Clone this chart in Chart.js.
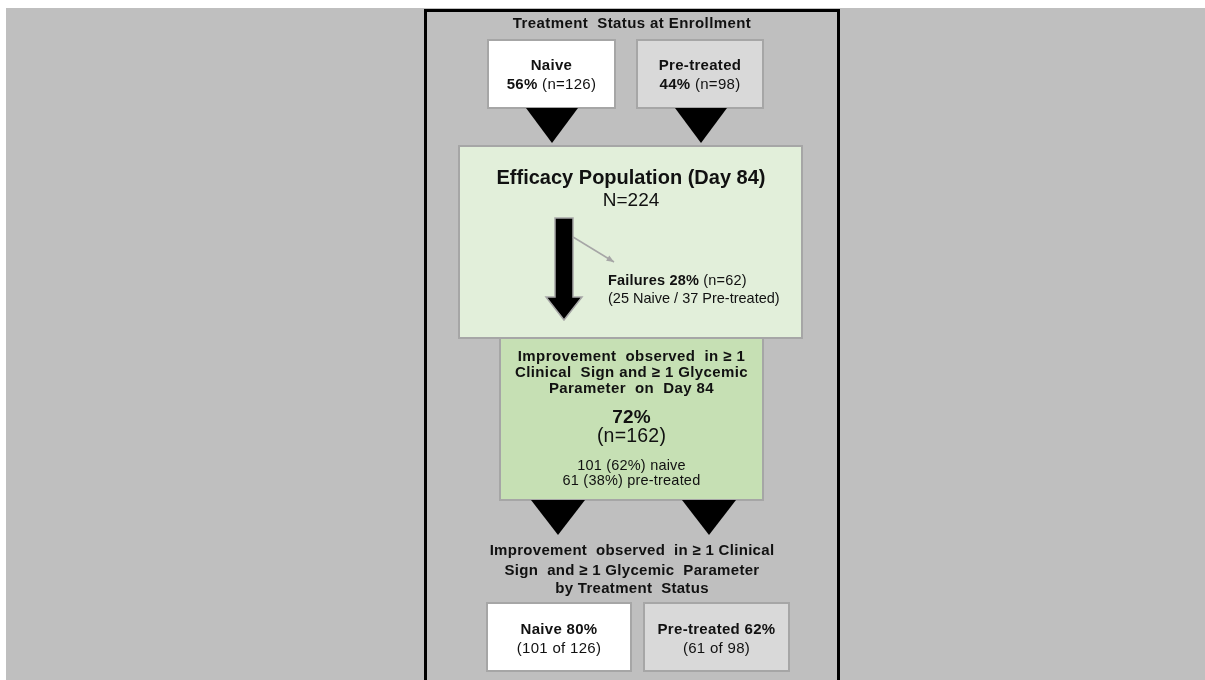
<!DOCTYPE html>
<html>
<head>
<meta charset="utf-8">
<script src="https://cdn.jsdelivr.net/npm/chart.js@4.4.0/dist/chart.umd.min.js"></script>
<style>
  html, body { margin: 0; padding: 0; background: #ffffff; }
  canvas { display: block; }
</style>
</head>
<body>
<canvas id="flow" width="1205" height="680"></canvas>
<script>
// values
const groups = ['Naive', 'Pre-treated'];
const enrolledPct = [56, 44];
const enrolledN = [126, 98];
const efficacyDay = 84;
const efficacyN = 224;
const failurePct = 28;
const failureN = 62;
const failureByGroup = [25, 37];
const improvedPct = 72;
const improvedN = 162;
const improvedByGroup = [101, 61];
const improvedShare = [62, 38];
const groupRate = [80, 62];

// layout in scale units (1 unit = 1px of the 1205x680 page)
const W = 1205, H = 680;
const FONT = "'Liberation Sans', Arial, sans-serif";
const layout = {
    panel: { x: 6, y: 8 },
    frame: { x1: 425.5, x2: 838.5, y: 10.5 },
    topBoxes: [{ x1: 488, x2: 615 }, { x1: 637, x2: 763 }],
    topBoxY: [40, 108],
    topArrows: [{ cx: 552, half: 26 }, { cx: 701, half: 26 }],
    topArrowY: [108, 143],
    effBox: { x1: 459, x2: 802, y1: 146, y2: 338 },
    impBox: { x1: 500, x2: 763, y1: 338, y2: 500 },
    bigArrow: { cx: 564, shaft: 9, head: 18, y1: 218, yHead: 297, y2: 320 },
    failArrow: { x1: 573, y1: 237, x2: 614, y2: 262 },
    botArrows: [{ cx: 558, half: 27 }, { cx: 709, half: 27 }],
    botArrowY: [500, 535],
    botBoxes: [{ x1: 487, x2: 631 }, { x1: 644, x2: 789 }],
    botBoxY: [603, 671]
};
const colors = {
    panel: '#bfbfbf',
    border: '#a6a6a6',
    white: '#ffffff',
    grey: '#d9d9d9',
    eff: '#e2efda',
    imp: '#c6e0b4',
    text: '#111111'
};

function setFont(ctx, bold, size, spacing) {
    ctx.font = (bold ? 'bold ' : '') + size + 'px ' + FONT;
    ctx.letterSpacing = (spacing || 0) + 'px';
}

function drawRuns(ctx, runs, x, y, size, spacing, align) {
    let start = x;
    if (align !== 'left') {
        let w = 0;
        runs.forEach(([t, bold]) => {
            setFont(ctx, bold, size, spacing);
            w += ctx.measureText(t).width;
        });
        start = x - w / 2;
    }
    ctx.textBaseline = 'middle';
    ctx.textAlign = 'left';
    ctx.fillStyle = colors.text;
    runs.forEach(([t, bold]) => {
        setFont(ctx, bold, size, spacing);
        ctx.fillText(t, start, y);
        start += ctx.measureText(t).width;
    });
    ctx.letterSpacing = '0px';
}

const flowPlugin = {
    id: 'flow',
    afterDraw(chart) {
        const ctx = chart.ctx;
        const sx = chart.scales.x, sy = chart.scales.y;
        const px = v => sx.getPixelForValue(v);
        const py = v => sy.getPixelForValue(v);

        const box = (x1, y1, x2, y2, fill) => {
            ctx.fillStyle = fill;
            ctx.fillRect(px(x1), py(y1), px(x2) - px(x1), py(y2) - py(y1));
            ctx.strokeStyle = colors.border;
            ctx.lineWidth = 2;
            ctx.strokeRect(px(x1), py(y1), px(x2) - px(x1), py(y2) - py(y1));
        };
        const tri = (cx, half, y1, y2) => {
            ctx.beginPath();
            ctx.moveTo(px(cx - half), py(y1));
            ctx.lineTo(px(cx + half), py(y1));
            ctx.lineTo(px(cx), py(y2));
            ctx.closePath();
            ctx.fillStyle = '#000000';
            ctx.fill();
        };

        ctx.save();
        // grey panel
        ctx.fillStyle = colors.panel;
        ctx.fillRect(px(layout.panel.x), py(layout.panel.y), px(W) - px(layout.panel.x), py(H) - py(layout.panel.y));

        // black frame (open at the bottom)
        const f = layout.frame;
        ctx.strokeStyle = '#000000';
        ctx.lineWidth = 3;
        ctx.beginPath();
        ctx.moveTo(px(f.x1), py(H));
        ctx.lineTo(px(f.x1), py(f.y));
        ctx.lineTo(px(f.x2), py(f.y));
        ctx.lineTo(px(f.x2), py(H));
        ctx.stroke();

        // header
        drawRuns(ctx, [['Treatment  Status at Enrollment', true]], px(632), py(24), 15, 0.4);

        // enrollment boxes
        const topFill = [colors.white, colors.grey];
        groups.forEach((g, i) => {
            const b = layout.topBoxes[i];
            box(b.x1, layout.topBoxY[0], b.x2, layout.topBoxY[1], topFill[i]);
            const cx = px((b.x1 + b.x2) / 2);
            drawRuns(ctx, [[g, true]], cx, py(66), 15, 0.3);
            drawRuns(ctx, [[enrolledPct[i] + '%', true], [' (n=' + enrolledN[i] + ')', false]], cx, py(85), 15, 0.3);
            const a = layout.topArrows[i];
            tri(a.cx, a.half, layout.topArrowY[0], layout.topArrowY[1]);
        });

        // efficacy population
        const e = layout.effBox;
        box(e.x1, e.y1, e.x2, e.y2, colors.eff);
        drawRuns(ctx, [['Efficacy Population (Day ' + efficacyDay + ')', true]], px(631), py(178), 20, 0);
        drawRuns(ctx, [['N=' + efficacyN, false]], px(631), py(201), 19, 0);

        // big down arrow
        const ba = layout.bigArrow;
        ctx.beginPath();
        ctx.moveTo(px(ba.cx - ba.shaft), py(ba.y1));
        ctx.lineTo(px(ba.cx + ba.shaft), py(ba.y1));
        ctx.lineTo(px(ba.cx + ba.shaft), py(ba.yHead));
        ctx.lineTo(px(ba.cx + ba.head), py(ba.yHead));
        ctx.lineTo(px(ba.cx), py(ba.y2));
        ctx.lineTo(px(ba.cx - ba.head), py(ba.yHead));
        ctx.lineTo(px(ba.cx - ba.shaft), py(ba.yHead));
        ctx.closePath();
        ctx.fillStyle = '#000000';
        ctx.fill();
        ctx.strokeStyle = colors.border;
        ctx.lineWidth = 1.5;
        ctx.stroke();

        // failure side arrow
        const fa = layout.failArrow;
        ctx.strokeStyle = colors.border;
        ctx.lineWidth = 1.5;
        ctx.beginPath();
        ctx.moveTo(px(fa.x1), py(fa.y1));
        ctx.lineTo(px(fa.x2), py(fa.y2));
        ctx.stroke();
        const ang = Math.atan2(py(fa.y2) - py(fa.y1), px(fa.x2) - px(fa.x1));
        ctx.beginPath();
        ctx.moveTo(px(fa.x2), py(fa.y2));
        ctx.lineTo(px(fa.x2) - 8 * Math.cos(ang - 0.4), py(fa.y2) - 8 * Math.sin(ang - 0.4));
        ctx.lineTo(px(fa.x2) - 8 * Math.cos(ang + 0.4), py(fa.y2) - 8 * Math.sin(ang + 0.4));
        ctx.closePath();
        ctx.fillStyle = colors.border;
        ctx.fill();

        drawRuns(ctx, [['Failures ' + failurePct + '%', true], [' (n=' + failureN + ')', false]], px(608), py(281), 14.5, 0.2, 'left');
        drawRuns(ctx, [['(' + failureByGroup[0] + ' ' + groups[0] + ' / ' + failureByGroup[1] + ' ' + groups[1] + ')', false]], px(608), py(299), 14.5, 0, 'left');

        // improvement box
        const m = layout.impBox;
        box(m.x1, m.y1, m.x2, m.y2, colors.imp);
        const icx = px((m.x1 + m.x2) / 2);
        drawRuns(ctx, [['Improvement  observed  in \u2265 1', true]], icx, py(357), 15, 0.4);
        drawRuns(ctx, [['Clinical  Sign and \u2265 1 Glycemic', true]], icx, py(373), 15, 0.4);
        drawRuns(ctx, [['Parameter  on  Day ' + efficacyDay, true]], icx, py(389), 15, 0.4);
        drawRuns(ctx, [[improvedPct + '%', true]], icx, py(418), 19, 0.2);
        drawRuns(ctx, [['(n=' + improvedN + ')', false]], icx, py(437), 19.5, 0.2);
        drawRuns(ctx, [[improvedByGroup[0] + ' (' + improvedShare[0] + '%) naive', false]], icx, py(466), 14.5, 0.2);
        drawRuns(ctx, [[improvedByGroup[1] + ' (' + improvedShare[1] + '%) pre-treated', false]], icx, py(481), 14.5, 0.2);

        // arrows to the subgroup results
        layout.botArrows.forEach(a => tri(a.cx, a.half, layout.botArrowY[0], layout.botArrowY[1]));

        drawRuns(ctx, [['Improvement  observed  in \u2265 1 Clinical', true]], px(632), py(551), 15, 0.3);
        drawRuns(ctx, [['Sign  and \u2265 1 Glycemic  Parameter', true]], px(632), py(571), 15, 0.3);
        drawRuns(ctx, [['by Treatment  Status', true]], px(632), py(589), 15, 0.3);

        // subgroup boxes
        groups.forEach((g, i) => {
            const b = layout.botBoxes[i];
            box(b.x1, layout.botBoxY[0], b.x2, layout.botBoxY[1], topFill[i]);
            const cx = px((b.x1 + b.x2) / 2);
            drawRuns(ctx, [[g + ' ' + groupRate[i] + '%', true]], cx, py(630), 15, 0.3);
            drawRuns(ctx, [['(' + improvedByGroup[i] + ' of ' + enrolledN[i] + ')', false]], cx, py(649), 15, 0.3);
        });
        ctx.restore();
    }
};

document.addEventListener('DOMContentLoaded', () => {
    new Chart(document.getElementById('flow'), {
        type: 'scatter',
        data: { datasets: [{ data: [], pointRadius: 0 }] },
        options: {
            responsive: false,
            animation: false,
            devicePixelRatio: 1,
            layout: { padding: 0 },
            plugins: { legend: { display: false }, tooltip: { enabled: false } },
            scales: {
                x: { type: 'linear', min: 0, max: W, display: false },
                y: { type: 'linear', min: 0, max: H, reverse: true, display: false }
            }
        },
        plugins: [flowPlugin]
    });
});
</script>
</body>
</html>
